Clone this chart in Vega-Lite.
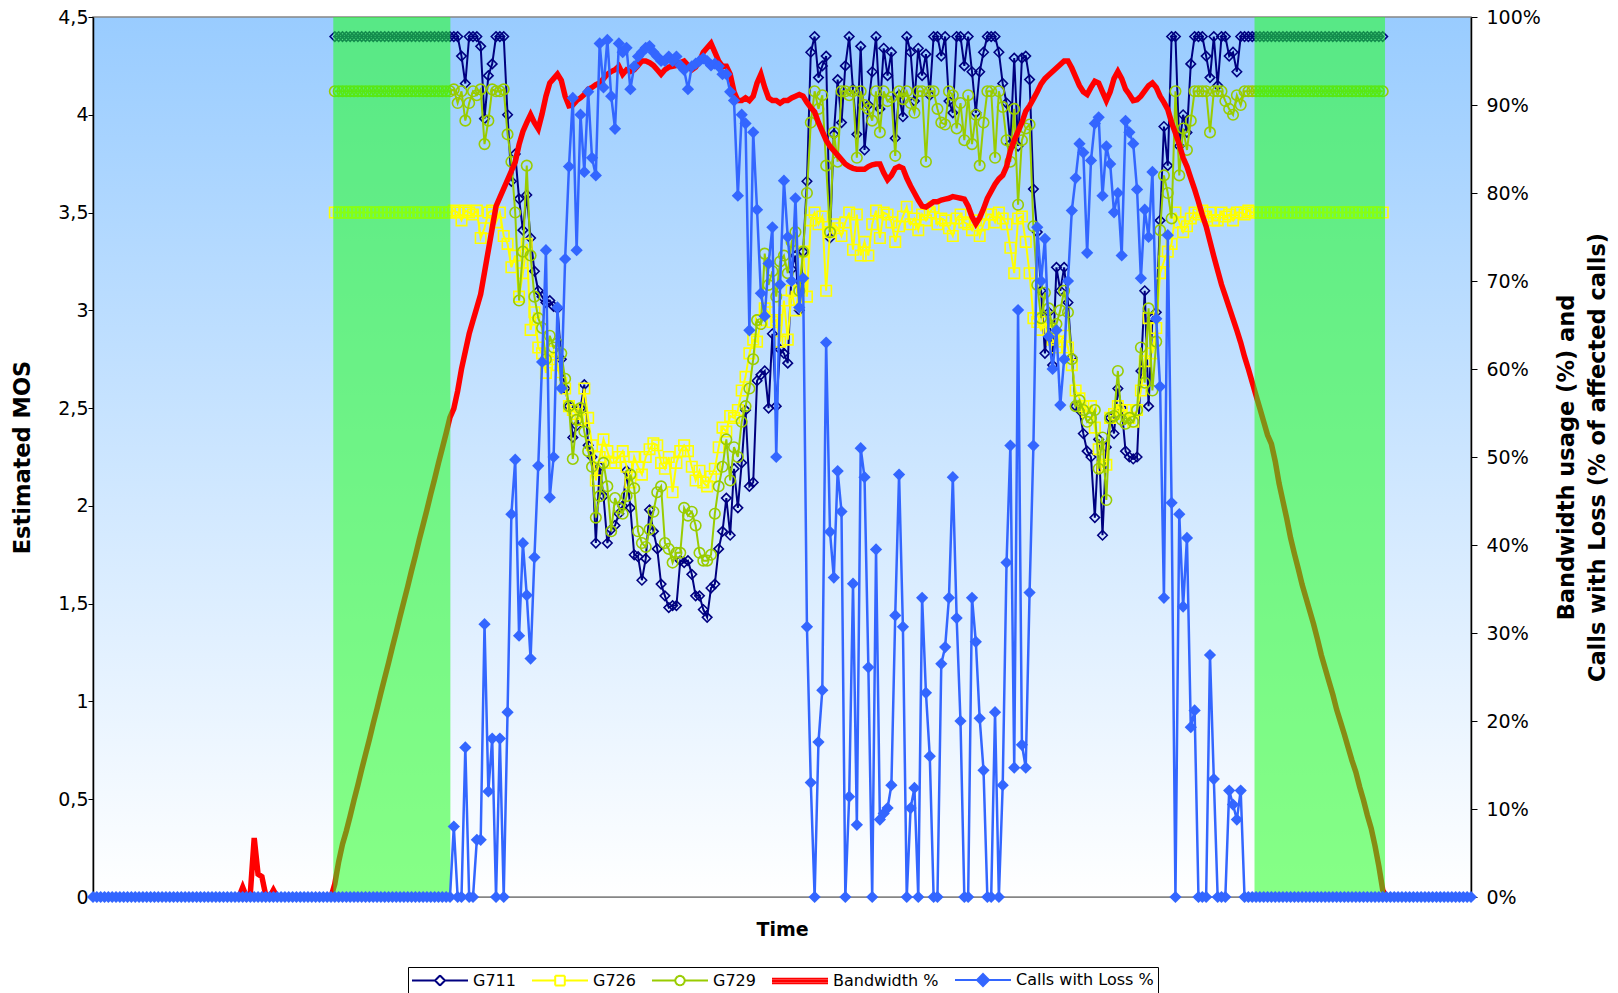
{
  "$schema": "https://vega.github.io/schema/vega-lite/v6.json",
  "width": 1378,
  "height": 880,
  "autosize": {"type": "none"},
  "padding": {"left": 93, "top": 17, "right": 147, "bottom": 96},
  "background": "white",
  "config": {
    "font": "DejaVu Sans",
    "view": {
      "stroke": "#868686",
      "strokeWidth": 1.5,
      "fill": {"gradient": "linear", "x1": 0, "y1": 0, "x2": 0, "y2": 1, "stops": [{"offset": 0, "color": "#99CCFF"}, {"offset": 1, "color": "#FFFFFF"}]}
    },
    "axis": {"labelFont": "DejaVu Sans", "titleFont": "DejaVu Sans", "labelColor": "black", "titleColor": "black", "domainColor": "black", "tickColor": "black", "grid": false, "labelFontSize": 19, "titleFontSize": 22.5, "titleFontWeight": "bold"}
  },
  "datasets": {
    "bands": [{"start": 62.6, "end": 93.1}, {"start": 302.6, "end": 336.6}],
    "mos": [
{"t":0,"BW":0,"Loss":0},{"t":1,"BW":0,"Loss":0},{"t":2,"BW":0,"Loss":0},{"t":3,"BW":0,"Loss":0},{"t":4,"BW":0,"Loss":0},{"t":5,"BW":0,"Loss":0},{"t":6,"BW":0,"Loss":0},{"t":7,"BW":0,"Loss":0},{"t":8,"BW":0,"Loss":0},{"t":9,"BW":0,"Loss":0},
{"t":10,"BW":0,"Loss":0},{"t":11,"BW":0,"Loss":0},{"t":12,"BW":0,"Loss":0},{"t":13,"BW":0,"Loss":0},{"t":14,"BW":0,"Loss":0},{"t":15,"BW":0,"Loss":0},{"t":16,"BW":0,"Loss":0},{"t":17,"BW":0,"Loss":0},{"t":18,"BW":0,"Loss":0},{"t":19,"BW":0,"Loss":0},
{"t":20,"BW":0,"Loss":0},{"t":21,"BW":0,"Loss":0},{"t":22,"BW":0,"Loss":0},{"t":23,"BW":0,"Loss":0},{"t":24,"BW":0,"Loss":0},{"t":25,"BW":0,"Loss":0},{"t":26,"BW":0,"Loss":0},{"t":27,"BW":0,"Loss":0},{"t":28,"BW":0,"Loss":0},{"t":29,"BW":0,"Loss":0},
{"t":30,"BW":0,"Loss":0},{"t":31,"BW":0,"Loss":0},{"t":32,"BW":0,"Loss":0},{"t":33,"BW":0,"Loss":0},{"t":34,"BW":0,"Loss":0},{"t":35,"BW":0,"Loss":0},{"t":36,"BW":0,"Loss":0},{"t":37,"BW":0,"Loss":0},{"t":38,"BW":0,"Loss":0},{"t":39,"BW":1.1,"Loss":0},
{"t":40,"BW":0,"Loss":0},{"t":41,"BW":0.5,"Loss":0},{"t":42,"BW":6.7,"Loss":0},{"t":43,"BW":2.6,"Loss":0},{"t":44,"BW":2.3,"Loss":0},{"t":45,"BW":0.2,"Loss":0},{"t":46,"BW":0,"Loss":0},{"t":47,"BW":0.8,"Loss":0},{"t":48,"BW":0,"Loss":0},{"t":49,"BW":0,"Loss":0},
{"t":50,"BW":0,"Loss":0},{"t":51,"BW":0,"Loss":0},{"t":52,"BW":0,"Loss":0},{"t":53,"BW":0,"Loss":0},{"t":54,"BW":0,"Loss":0},{"t":55,"BW":0,"Loss":0},{"t":56,"BW":0,"Loss":0},{"t":57,"BW":0,"Loss":0},{"t":58,"BW":0,"Loss":0},{"t":59,"BW":0,"Loss":0},
{"t":60,"BW":0,"Loss":0},{"t":61,"BW":0,"Loss":0},{"t":62,"BW":0,"Loss":0},
{"t":63,"G711":4.4,"G726":3.5,"G729":4.12,"BW":1.5,"Loss":0},
{"t":64,"G711":4.4,"G726":3.5,"G729":4.12,"BW":4,"Loss":0},
{"t":65,"G711":4.4,"G726":3.5,"G729":4.12,"BW":6,"Loss":0},
{"t":66,"G711":4.4,"G726":3.5,"G729":4.12,"BW":7.5,"Loss":0},
{"t":67,"G711":4.4,"G726":3.5,"G729":4.12,"BW":9.2,"Loss":0},
{"t":68,"G711":4.4,"G726":3.5,"G729":4.12,"BW":11,"Loss":0},
{"t":69,"G711":4.4,"G726":3.5,"G729":4.12,"BW":12.7,"Loss":0},
{"t":70,"G711":4.4,"G726":3.5,"G729":4.12,"BW":14.5,"Loss":0},
{"t":71,"G711":4.4,"G726":3.5,"G729":4.12,"BW":16.2,"Loss":0},
{"t":72,"G711":4.4,"G726":3.5,"G729":4.12,"BW":17.9,"Loss":0},
{"t":73,"G711":4.4,"G726":3.5,"G729":4.12,"BW":19.7,"Loss":0},
{"t":74,"G711":4.4,"G726":3.5,"G729":4.12,"BW":21.4,"Loss":0},
{"t":75,"G711":4.4,"G726":3.5,"G729":4.12,"BW":23.2,"Loss":0},
{"t":76,"G711":4.4,"G726":3.5,"G729":4.12,"BW":24.9,"Loss":0},
{"t":77,"G711":4.4,"G726":3.5,"G729":4.12,"BW":26.6,"Loss":0},
{"t":78,"G711":4.4,"G726":3.5,"G729":4.12,"BW":28.4,"Loss":0},
{"t":79,"G711":4.4,"G726":3.5,"G729":4.12,"BW":30.1,"Loss":0},
{"t":80,"G711":4.4,"G726":3.5,"G729":4.12,"BW":31.9,"Loss":0},
{"t":81,"G711":4.4,"G726":3.5,"G729":4.12,"BW":33.6,"Loss":0},
{"t":82,"G711":4.4,"G726":3.5,"G729":4.12,"BW":35.3,"Loss":0},
{"t":83,"G711":4.4,"G726":3.5,"G729":4.12,"BW":37.1,"Loss":0},
{"t":84,"G711":4.4,"G726":3.5,"G729":4.12,"BW":38.8,"Loss":0},
{"t":85,"G711":4.4,"G726":3.5,"G729":4.12,"BW":40.6,"Loss":0},
{"t":86,"G711":4.4,"G726":3.5,"G729":4.12,"BW":42.3,"Loss":0},
{"t":87,"G711":4.4,"G726":3.5,"G729":4.12,"BW":44,"Loss":0},
{"t":88,"G711":4.4,"G726":3.5,"G729":4.12,"BW":45.8,"Loss":0},
{"t":89,"G711":4.4,"G726":3.5,"G729":4.12,"BW":47.5,"Loss":0},
{"t":90,"G711":4.4,"G726":3.5,"G729":4.12,"BW":49.3,"Loss":0},
{"t":91,"G711":4.4,"G726":3.5,"G729":4.12,"BW":51,"Loss":0},
{"t":92,"G711":4.4,"G726":3.5,"G729":4.12,"BW":52.7,"Loss":0},
{"t":93,"G711":4.4,"G726":3.5,"G729":4.12,"BW":54.5,"Loss":0},
{"t":94,"G711":4.4,"G726":3.51,"G729":4.13,"BW":55.5,"Loss":8},
{"t":95,"G711":4.4,"G726":3.5,"G729":4.06,"BW":57.5,"Loss":0},
{"t":96,"G711":4.3,"G726":3.46,"G729":4.12,"BW":60,"Loss":0},
{"t":97,"G711":4.16,"G726":3.51,"G729":3.97,"BW":62,"Loss":17},
{"t":98,"G711":4.4,"G726":3.5,"G729":4.06,"BW":64,"Loss":0},
{"t":99,"G711":4.4,"G726":3.49,"G729":4.12,"BW":65.5,"Loss":0},
{"t":100,"G711":4.4,"G726":3.51,"G729":4.1,"BW":67,"Loss":6.5},
{"t":101,"G711":4.35,"G726":3.37,"G729":4.13,"BW":68.5,"Loss":6.5},
{"t":102,"G711":3.98,"G726":3.42,"G729":3.85,"BW":71,"Loss":31},
{"t":103,"G711":4.2,"G726":3.5,"G729":3.97,"BW":73.5,"Loss":12},
{"t":104,"G711":4.26,"G726":3.51,"G729":4.13,"BW":76,"Loss":18},
{"t":105,"G711":4.4,"G726":3.45,"G729":4.12,"BW":78.5,"Loss":0},
{"t":106,"G711":4.4,"G726":3.5,"G729":4.12,"BW":79.5,"Loss":18},
{"t":107,"G711":4.4,"G726":3.38,"G729":4.13,"BW":80.5,"Loss":0},
{"t":108,"G711":4.0,"G726":3.34,"G729":3.9,"BW":81.5,"Loss":21},
{"t":109,"G711":3.66,"G726":3.22,"G729":3.76,"BW":82.5,"Loss":43.5},
{"t":110,"G711":3.8,"G726":3.28,"G729":3.5,"BW":83.5,"Loss":49.7},
{"t":111,"G711":3.57,"G726":3.07,"G729":3.05,"BW":85.5,"Loss":29.7},
{"t":112,"G711":3.41,"G726":3.19,"G729":3.3,"BW":87,"Loss":40.2},
{"t":113,"G711":3.59,"G726":3.34,"G729":3.74,"BW":88,"Loss":34.3},
{"t":114,"G711":3.37,"G726":2.9,"G729":3.28,"BW":88.9,"Loss":27.1},
{"t":115,"G711":3.2,"G726":2.99,"G729":3.07,"BW":88,"Loss":38.6},
{"t":116,"G711":3.1,"G726":2.81,"G729":2.96,"BW":87.3,"Loss":49},
{"t":117,"G711":3.07,"G726":2.78,"G729":2.91,"BW":89,"Loss":60.8},
{"t":118,"G711":3.04,"G726":2.68,"G729":2.75,"BW":91,"Loss":73.5},
{"t":119,"G711":3.05,"G726":2.75,"G729":2.87,"BW":92.5,"Loss":45.4},
{"t":120,"G711":3.02,"G726":2.79,"G729":2.81,"BW":93,"Loss":50},
{"t":121,"G711":3.01,"G726":2.72,"G729":2.83,"BW":93.5,"Loss":67},
{"t":122,"G711":2.75,"G726":2.63,"G729":2.78,"BW":92.8,"Loss":57.8},
{"t":123,"G711":2.6,"G726":2.6,"G729":2.65,"BW":91,"Loss":72.5},
{"t":124,"G711":2.51,"G726":2.51,"G729":2.51,"BW":89.9,"Loss":83},
{"t":125,"G711":2.35,"G726":2.49,"G729":2.24,"BW":90,"Loss":90.8},
{"t":126,"G711":2.41,"G726":2.47,"G729":2.44,"BW":90.5,"Loss":73.5},
{"t":127,"G711":2.5,"G726":2.44,"G729":2.5,"BW":90.8,"Loss":88.9},
{"t":128,"G711":2.62,"G726":2.6,"G729":2.38,"BW":91.2,"Loss":82.4},
{"t":129,"G711":2.31,"G726":2.45,"G729":2.28,"BW":91.8,"Loss":91.5},
{"t":130,"G711":2.25,"G726":2.31,"G729":2.2,"BW":92,"Loss":84},
{"t":131,"G711":1.81,"G726":2.13,"G729":1.94,"BW":92.3,"Loss":82},
{"t":132,"G711":2.2,"G726":2.25,"G729":2.05,"BW":92.5,"Loss":97},
{"t":133,"G711":2.05,"G726":2.34,"G729":2.22,"BW":93,"Loss":92},
{"t":134,"G711":1.81,"G726":2.28,"G729":2.1,"BW":93.5,"Loss":97.4},
{"t":135,"G711":1.88,"G726":2.22,"G729":1.87,"BW":93.8,"Loss":91},
{"t":136,"G711":1.9,"G726":2.22,"G729":2.04,"BW":94,"Loss":87.3},
{"t":137,"G711":1.96,"G726":2.25,"G729":1.99,"BW":94.4,"Loss":97},
{"t":138,"G711":2.0,"G726":2.28,"G729":1.96,"BW":93.5,"Loss":96},
{"t":139,"G711":2.18,"G726":2.2,"G729":2.05,"BW":94,"Loss":96.5},
{"t":140,"G711":1.99,"G726":2.12,"G729":2.16,"BW":93.8,"Loss":91.8},
{"t":141,"G711":1.75,"G726":2.25,"G729":2.09,"BW":94,"Loss":94.4},
{"t":142,"G711":1.74,"G726":2.2,"G729":1.87,"BW":94.5,"Loss":95.5},
{"t":143,"G711":1.62,"G726":2.16,"G729":1.81,"BW":95,"Loss":96},
{"t":144,"G711":1.73,"G726":2.25,"G729":1.79,"BW":95,"Loss":96.5},
{"t":145,"G711":1.98,"G726":2.29,"G729":1.88,"BW":94.8,"Loss":96.7},
{"t":146,"G711":1.87,"G726":2.32,"G729":1.97,"BW":94.5,"Loss":96},
{"t":147,"G711":1.78,"G726":2.31,"G729":2.07,"BW":94,"Loss":95.5},
{"t":148,"G711":1.6,"G726":2.22,"G729":2.1,"BW":93.5,"Loss":95},
{"t":149,"G711":1.54,"G726":2.19,"G729":1.81,"BW":94,"Loss":95},
{"t":150,"G711":1.48,"G726":2.25,"G729":1.78,"BW":94.3,"Loss":95.5},
{"t":151,"G711":1.49,"G726":2.07,"G729":1.71,"BW":94.4,"Loss":95},
{"t":152,"G711":1.49,"G726":2.22,"G729":1.76,"BW":94.5,"Loss":95.5},
{"t":153,"G711":1.72,"G726":2.28,"G729":1.76,"BW":94.8,"Loss":94.5},
{"t":154,"G711":1.71,"G726":2.31,"G729":1.99,"BW":95,"Loss":94},
{"t":155,"G711":1.72,"G726":2.28,"G729":1.95,"BW":94.5,"Loss":91.8},
{"t":156,"G711":1.65,"G726":2.2,"G729":1.97,"BW":94,"Loss":94.4},
{"t":157,"G711":1.54,"G726":2.13,"G729":1.9,"BW":94.3,"Loss":94.7},
{"t":158,"G711":1.54,"G726":2.18,"G729":1.76,"BW":95,"Loss":95},
{"t":159,"G711":1.47,"G726":2.12,"G729":1.72,"BW":96,"Loss":95.3},
{"t":160,"G711":1.43,"G726":2.1,"G729":1.72,"BW":96.5,"Loss":95},
{"t":161,"G711":1.58,"G726":2.15,"G729":1.75,"BW":97,"Loss":94.5},
{"t":162,"G711":1.6,"G726":2.19,"G729":1.96,"BW":96,"Loss":94.7},
{"t":163,"G711":1.78,"G726":2.3,"G729":2.1,"BW":95,"Loss":94.4},
{"t":164,"G711":1.87,"G726":2.4,"G729":2.2,"BW":94.4,"Loss":93.5},
{"t":165,"G711":2.04,"G726":2.38,"G729":2.34,"BW":94.4,"Loss":93.5},
{"t":166,"G711":1.85,"G726":2.46,"G729":2.13,"BW":93.5,"Loss":91.5},
{"t":167,"G711":2.19,"G726":2.45,"G729":2.3,"BW":91.5,"Loss":90.5},
{"t":168,"G711":1.99,"G726":2.49,"G729":2.25,"BW":90.5,"Loss":79.7},
{"t":169,"G711":2.22,"G726":2.59,"G729":2.43,"BW":90.5,"Loss":88.9},
{"t":170,"G711":2.49,"G726":2.66,"G729":2.51,"BW":90.8,"Loss":87.9},
{"t":171,"G711":2.1,"G726":2.78,"G729":2.6,"BW":90.5,"Loss":64.4},
{"t":172,"G711":2.12,"G726":2.85,"G729":2.75,"BW":91,"Loss":86.9},
{"t":173,"G711":2.64,"G726":2.84,"G729":2.95,"BW":92.5,"Loss":78.1},
{"t":174,"G711":2.67,"G726":2.95,"G729":2.93,"BW":93.5,"Loss":68.6},
{"t":175,"G711":2.69,"G726":3.01,"G729":3.29,"BW":92,"Loss":66},
{"t":176,"G711":2.5,"G726":2.99,"G729":3.13,"BW":90.8,"Loss":72},
{"t":177,"G711":2.88,"G726":2.94,"G729":3.2,"BW":90.5,"Loss":76.1},
{"t":178,"G711":2.51,"G726":2.95,"G729":3.07,"BW":90.5,"Loss":50},
{"t":179,"G711":2.8,"G726":2.84,"G729":3.25,"BW":90.2,"Loss":69.6},
{"t":180,"G711":2.78,"G726":3.05,"G729":3.28,"BW":90.5,"Loss":81.4},
{"t":181,"G711":2.73,"G726":2.85,"G729":3.19,"BW":90.5,"Loss":75},
{"t":182,"G711":3.21,"G726":3.1,"G729":3.35,"BW":90.8,"Loss":70},
{"t":183,"G711":3.28,"G726":3.0,"G729":3.4,"BW":91,"Loss":79.4},
{"t":184,"G711":3.0,"G726":3.1,"G729":3.1,"BW":91.2,"Loss":67},
{"t":185,"G711":3.3,"G726":3.3,"G729":3.3,"BW":91,"Loss":70.3},
{"t":186,"G711":3.66,"G726":3.07,"G729":3.6,"BW":90.3,"Loss":30.7},
{"t":187,"G711":4.32,"G726":3.46,"G729":3.96,"BW":89.7,"Loss":13},
{"t":188,"G711":4.4,"G726":3.5,"G729":4.12,"BW":89.2,"Loss":0},
{"t":189,"G711":4.19,"G726":3.44,"G729":4.03,"BW":88,"Loss":17.6},
{"t":190,"G711":4.25,"G726":3.48,"G729":4.1,"BW":87,"Loss":23.5},
{"t":191,"G711":4.3,"G726":3.1,"G729":3.74,"BW":86,"Loss":63},
{"t":192,"G711":3.37,"G726":3.4,"G729":3.4,"BW":85.3,"Loss":41.5},
{"t":193,"G711":3.9,"G726":3.44,"G729":3.91,"BW":84.8,"Loss":36.3},
{"t":194,"G711":4.18,"G726":3.42,"G729":3.76,"BW":84.3,"Loss":48.4},
{"t":195,"G711":3.96,"G726":3.38,"G729":4.12,"BW":83.8,"Loss":43.8},
{"t":196,"G711":4.25,"G726":3.45,"G729":4.12,"BW":83.3,"Loss":0},
{"t":197,"G711":4.4,"G726":3.5,"G729":4.1,"BW":83,"Loss":11.4},
{"t":198,"G711":4.13,"G726":3.31,"G729":4.12,"BW":82.8,"Loss":35.6},
{"t":199,"G711":3.9,"G726":3.49,"G729":3.78,"BW":82.7,"Loss":8.2},
{"t":200,"G711":4.35,"G726":3.28,"G729":4.12,"BW":82.7,"Loss":51},
{"t":201,"G711":3.82,"G726":3.35,"G729":4.05,"BW":82.7,"Loss":47.7},
{"t":202,"G711":4.05,"G726":3.28,"G729":4.03,"BW":83,"Loss":26.1},
{"t":203,"G711":4.22,"G726":3.44,"G729":3.97,"BW":83.2,"Loss":0},
{"t":204,"G711":4.4,"G726":3.51,"G729":4.12,"BW":83.3,"Loss":39.5},
{"t":205,"G711":4.03,"G726":3.37,"G729":3.91,"BW":83.3,"Loss":8.8},
{"t":206,"G711":4.34,"G726":3.5,"G729":4.12,"BW":82.3,"Loss":9.5},
{"t":207,"G711":4.2,"G726":3.49,"G729":4.07,"BW":81.5,"Loss":10.1},
{"t":208,"G711":4.32,"G726":3.45,"G729":4.09,"BW":82,"Loss":12.7},
{"t":209,"G711":3.88,"G726":3.35,"G729":3.79,"BW":82.8,"Loss":32},
{"t":210,"G711":4.1,"G726":3.43,"G729":4.12,"BW":83,"Loss":48},
{"t":211,"G711":3.99,"G726":3.48,"G729":4.08,"BW":82.8,"Loss":30.7},
{"t":212,"G711":4.4,"G726":3.53,"G729":4.12,"BW":81.7,"Loss":0},
{"t":213,"G711":4.32,"G726":3.44,"G729":4.06,"BW":80.8,"Loss":10.1},
{"t":214,"G711":4.07,"G726":3.47,"G729":4.01,"BW":80,"Loss":12.4},
{"t":215,"G711":4.34,"G726":3.41,"G729":4.12,"BW":79.2,"Loss":0},
{"t":216,"G711":4.2,"G726":3.49,"G729":4.12,"BW":78.5,"Loss":34},
{"t":217,"G711":4.31,"G726":3.46,"G729":3.76,"BW":78.4,"Loss":23.2},
{"t":218,"G711":4.1,"G726":3.5,"G729":4.12,"BW":78.7,"Loss":16},
{"t":219,"G711":4.4,"G726":3.53,"G729":4.12,"BW":79,"Loss":0},
{"t":220,"G711":4.4,"G726":3.44,"G729":4.03,"BW":79,"Loss":0},
{"t":221,"G711":4.3,"G726":3.47,"G729":3.96,"BW":79.2,"Loss":26.5},
{"t":222,"G711":4.4,"G726":3.46,"G729":3.95,"BW":79.3,"Loss":28.4},
{"t":223,"G711":4.07,"G726":3.42,"G729":4.12,"BW":79.4,"Loss":34},
{"t":224,"G711":4.01,"G726":3.38,"G729":4.1,"BW":79.6,"Loss":47.7},
{"t":225,"G711":4.4,"G726":3.47,"G729":3.93,"BW":79.5,"Loss":31.7},
{"t":226,"G711":4.4,"G726":3.49,"G729":4.06,"BW":79.4,"Loss":20},
{"t":227,"G711":4.25,"G726":3.45,"G729":3.87,"BW":79.3,"Loss":0},
{"t":228,"G711":4.4,"G726":3.44,"G729":4.1,"BW":78.5,"Loss":0},
{"t":229,"G711":4.22,"G726":3.41,"G729":3.85,"BW":77.3,"Loss":34},
{"t":230,"G711":4.01,"G726":3.46,"G729":4.0,"BW":76.5,"Loss":29},
{"t":231,"G711":4.22,"G726":3.38,"G729":3.74,"BW":77.2,"Loss":20.3},
{"t":232,"G711":4.32,"G726":3.44,"G729":3.96,"BW":78.2,"Loss":14.4},
{"t":233,"G711":4.4,"G726":3.49,"G729":4.12,"BW":79.4,"Loss":0},
{"t":234,"G711":4.4,"G726":3.49,"G729":4.12,"BW":80.2,"Loss":0},
{"t":235,"G711":4.4,"G726":3.45,"G729":3.78,"BW":81,"Loss":21},
{"t":236,"G711":4.32,"G726":3.5,"G729":4.12,"BW":81.6,"Loss":0},
{"t":237,"G711":4.16,"G726":3.47,"G729":4.04,"BW":82,"Loss":12.7},
{"t":238,"G711":4.06,"G726":3.44,"G729":3.87,"BW":83,"Loss":38},
{"t":239,"G711":3.85,"G726":3.32,"G729":3.76,"BW":84.8,"Loss":51.3},
{"t":240,"G711":4.29,"G726":3.19,"G729":4.03,"BW":86,"Loss":14.7},
{"t":241,"G711":3.84,"G726":3.47,"G729":3.54,"BW":87,"Loss":66.7},
{"t":242,"G711":4.29,"G726":3.48,"G729":3.87,"BW":88,"Loss":17.3},
{"t":243,"G711":4.3,"G726":3.35,"G729":3.93,"BW":89.3,"Loss":14.7},
{"t":244,"G711":4.18,"G726":3.19,"G729":3.95,"BW":89.9,"Loss":34.6},
{"t":245,"G711":3.62,"G726":2.96,"G729":3.43,"BW":90.7,"Loss":51.3},
{"t":246,"G711":3.4,"G726":2.94,"G729":3.13,"BW":91.5,"Loss":76.1},
{"t":247,"G711":3.1,"G726":2.9,"G729":2.96,"BW":92.4,"Loss":70},
{"t":248,"G711":2.78,"G726":2.94,"G729":3.09,"BW":93,"Loss":74.8},
{"t":249,"G711":2.99,"G726":2.9,"G729":3.01,"BW":93.4,"Loss":63.7},
{"t":250,"G711":2.72,"G726":2.85,"G729":2.91,"BW":93.8,"Loss":60},
{"t":251,"G711":3.22,"G726":2.81,"G729":2.93,"BW":94.2,"Loss":64.4},
{"t":252,"G711":3.1,"G726":2.84,"G729":3.0,"BW":94.6,"Loss":55.9},
{"t":253,"G711":3.22,"G726":2.87,"G729":3.1,"BW":95,"Loss":61.1},
{"t":254,"G711":3.04,"G726":2.81,"G729":2.99,"BW":95,"Loss":70},
{"t":255,"G711":2.76,"G726":2.72,"G729":2.75,"BW":94.2,"Loss":78},
{"t":256,"G711":2.51,"G726":2.59,"G729":2.51,"BW":93.2,"Loss":81.7},
{"t":257,"G711":2.49,"G726":2.55,"G729":2.54,"BW":92.2,"Loss":85.6},
{"t":258,"G711":2.37,"G726":2.51,"G729":2.49,"BW":91.5,"Loss":84.6},
{"t":259,"G711":2.28,"G726":2.48,"G729":2.43,"BW":91.2,"Loss":73.2},
{"t":260,"G711":2.25,"G726":2.51,"G729":2.45,"BW":92,"Loss":83.7},
{"t":261,"G711":1.94,"G726":2.4,"G729":2.49,"BW":92.7,"Loss":87.9},
{"t":262,"G711":2.34,"G726":2.29,"G729":2.19,"BW":92.5,"Loss":88.6},
{"t":263,"G711":1.85,"G726":2.2,"G729":2.35,"BW":91.5,"Loss":79.7},
{"t":264,"G711":2.3,"G726":2.21,"G729":2.03,"BW":90.5,"Loss":85.3},
{"t":265,"G711":2.45,"G726":2.45,"G729":2.45,"BW":91.5,"Loss":83.3},
{"t":266,"G711":2.37,"G726":2.47,"G729":2.46,"BW":93,"Loss":77.8},
{"t":267,"G711":2.6,"G726":2.51,"G729":2.69,"BW":93.8,"Loss":80},
{"t":268,"G711":2.5,"G726":2.49,"G729":2.44,"BW":93,"Loss":72.9},
{"t":269,"G711":2.28,"G726":2.49,"G729":2.42,"BW":91.8,"Loss":88.2},
{"t":270,"G711":2.25,"G726":2.45,"G729":2.45,"BW":91.2,"Loss":86.9},
{"t":271,"G711":2.24,"G726":2.43,"G729":2.43,"BW":90.5,"Loss":85.6},
{"t":272,"G711":2.25,"G726":2.49,"G729":2.49,"BW":90.6,"Loss":80.4},
{"t":273,"G711":2.69,"G726":2.59,"G729":2.81,"BW":91,"Loss":70.3},
{"t":274,"G711":3.1,"G726":2.74,"G729":2.63,"BW":91.6,"Loss":78.1},
{"t":275,"G711":2.51,"G726":2.96,"G729":3.01,"BW":92.2,"Loss":75},
{"t":276,"G711":2.96,"G726":2.78,"G729":2.59,"BW":92.5,"Loss":82.4},
{"t":277,"G711":2.99,"G726":2.91,"G729":2.84,"BW":92,"Loss":65.7},
{"t":278,"G711":3.46,"G726":3.19,"G729":3.41,"BW":91,"Loss":58},
{"t":279,"G711":3.94,"G726":3.25,"G729":3.69,"BW":90.3,"Loss":34},
{"t":280,"G711":3.74,"G726":3.3,"G729":3.6,"BW":89.5,"Loss":75.2},
{"t":281,"G711":4.4,"G726":3.34,"G729":3.47,"BW":88,"Loss":44.8},
{"t":282,"G711":4.4,"G726":3.5,"G729":4.12,"BW":86.8,"Loss":0},
{"t":283,"G711":3.84,"G726":3.45,"G729":3.69,"BW":85.5,"Loss":43.5},
{"t":284,"G711":4.0,"G726":3.4,"G729":3.93,"BW":84,"Loss":33},
{"t":285,"G711":3.91,"G726":3.43,"G729":3.82,"BW":83,"Loss":40.8},
{"t":286,"G711":4.26,"G726":3.47,"G729":3.97,"BW":81.7,"Loss":19.3},
{"t":287,"G711":4.4,"G726":3.5,"G729":4.12,"BW":80.4,"Loss":21.2},
{"t":288,"G711":4.4,"G726":3.49,"G729":4.12,"BW":79,"Loss":0},
{"t":289,"G711":4.4,"G726":3.51,"G729":4.12,"BW":77.5,"Loss":0},
{"t":290,"G711":4.3,"G726":3.48,"G729":4.12,"BW":76.2,"Loss":0},
{"t":291,"G711":4.19,"G726":3.5,"G729":3.91,"BW":74.5,"Loss":27.5},
{"t":292,"G711":4.4,"G726":3.46,"G729":4.12,"BW":72.8,"Loss":13.4},
{"t":293,"G711":4.15,"G726":3.46,"G729":4.12,"BW":71.2,"Loss":0},
{"t":294,"G711":4.4,"G726":3.5,"G729":4.12,"BW":69.6,"Loss":0},
{"t":295,"G711":4.4,"G726":3.48,"G729":4.07,"BW":68.3,"Loss":0},
{"t":296,"G711":4.3,"G726":3.49,"G729":4.03,"BW":67,"Loss":12.1},
{"t":297,"G711":4.32,"G726":3.46,"G729":4.0,"BW":65.7,"Loss":10.5},
{"t":298,"G711":4.22,"G726":3.5,"G729":4.1,"BW":64.4,"Loss":8.8},
{"t":299,"G711":4.4,"G726":3.5,"G729":4.05,"BW":63,"Loss":12.1},
{"t":300,"G711":4.4,"G726":3.49,"G729":4.12,"BW":61.4,"Loss":0},
{"t":301,"G711":4.4,"G726":3.51,"G729":4.12,"BW":60,"Loss":0},
{"t":302,"G711":4.4,"G726":3.5,"G729":4.12,"BW":58.5,"Loss":0},
{"t":303,"G711":4.4,"G726":3.5,"G729":4.12,"BW":57,"Loss":0},
{"t":304,"G711":4.4,"G726":3.5,"G729":4.12,"BW":55.5,"Loss":0},
{"t":305,"G711":4.4,"G726":3.5,"G729":4.12,"BW":54,"Loss":0},
{"t":306,"G711":4.4,"G726":3.5,"G729":4.12,"BW":52.5,"Loss":0},
{"t":307,"G711":4.4,"G726":3.5,"G729":4.12,"BW":51.5,"Loss":0},
{"t":308,"G711":4.4,"G726":3.5,"G729":4.12,"BW":49.5,"Loss":0},
{"t":309,"G711":4.4,"G726":3.5,"G729":4.12,"BW":47,"Loss":0},
{"t":310,"G711":4.4,"G726":3.5,"G729":4.12,"BW":45,"Loss":0},
{"t":311,"G711":4.4,"G726":3.5,"G729":4.12,"BW":43,"Loss":0},
{"t":312,"G711":4.4,"G726":3.5,"G729":4.12,"BW":40.8,"Loss":0},
{"t":313,"G711":4.4,"G726":3.5,"G729":4.12,"BW":39,"Loss":0},
{"t":314,"G711":4.4,"G726":3.5,"G729":4.12,"BW":37.3,"Loss":0},
{"t":315,"G711":4.4,"G726":3.5,"G729":4.12,"BW":35.5,"Loss":0},
{"t":316,"G711":4.4,"G726":3.5,"G729":4.12,"BW":34,"Loss":0},
{"t":317,"G711":4.4,"G726":3.5,"G729":4.12,"BW":32.5,"Loss":0},
{"t":318,"G711":4.4,"G726":3.5,"G729":4.12,"BW":31,"Loss":0},
{"t":319,"G711":4.4,"G726":3.5,"G729":4.12,"BW":29.3,"Loss":0},
{"t":320,"G711":4.4,"G726":3.5,"G729":4.12,"BW":27.5,"Loss":0},
{"t":321,"G711":4.4,"G726":3.5,"G729":4.12,"BW":26,"Loss":0},
{"t":322,"G711":4.4,"G726":3.5,"G729":4.12,"BW":24.5,"Loss":0},
{"t":323,"G711":4.4,"G726":3.5,"G729":4.12,"BW":23,"Loss":0},
{"t":324,"G711":4.4,"G726":3.5,"G729":4.12,"BW":21.3,"Loss":0},
{"t":325,"G711":4.4,"G726":3.5,"G729":4.12,"BW":19.9,"Loss":0},
{"t":326,"G711":4.4,"G726":3.5,"G729":4.12,"BW":18.5,"Loss":0},
{"t":327,"G711":4.4,"G726":3.5,"G729":4.12,"BW":17,"Loss":0},
{"t":328,"G711":4.4,"G726":3.5,"G729":4.12,"BW":15.5,"Loss":0},
{"t":329,"G711":4.4,"G726":3.5,"G729":4.12,"BW":14.2,"Loss":0},
{"t":330,"G711":4.4,"G726":3.5,"G729":4.12,"BW":12.5,"Loss":0},
{"t":331,"G711":4.4,"G726":3.5,"G729":4.12,"BW":11,"Loss":0},
{"t":332,"G711":4.4,"G726":3.5,"G729":4.12,"BW":9.3,"Loss":0},
{"t":333,"G711":4.4,"G726":3.5,"G729":4.12,"BW":7.8,"Loss":0},
{"t":334,"G711":4.4,"G726":3.5,"G729":4.12,"BW":5.8,"Loss":0},
{"t":335,"G711":4.4,"G726":3.5,"G729":4.12,"BW":3.5,"Loss":0},
{"t":336,"G711":4.4,"G726":3.5,"G729":4.12,"BW":0.8,"Loss":0},
{"t":337,"BW":0,"Loss":0},{"t":338,"BW":0,"Loss":0},{"t":339,"BW":0,"Loss":0},{"t":340,"BW":0,"Loss":0},{"t":341,"BW":0,"Loss":0},{"t":342,"BW":0,"Loss":0},{"t":343,"BW":0,"Loss":0},{"t":344,"BW":0,"Loss":0},{"t":345,"BW":0,"Loss":0},{"t":346,"BW":0,"Loss":0},
{"t":347,"BW":0,"Loss":0},{"t":348,"BW":0,"Loss":0},{"t":349,"BW":0,"Loss":0},{"t":350,"BW":0,"Loss":0},{"t":351,"BW":0,"Loss":0},{"t":352,"BW":0,"Loss":0},{"t":353,"BW":0,"Loss":0},{"t":354,"BW":0,"Loss":0},{"t":355,"BW":0,"Loss":0},{"t":356,"BW":0,"Loss":0},
{"t":357,"BW":0,"Loss":0},{"t":358,"BW":0,"Loss":0},{"t":359,"BW":0,"Loss":0}
    ]
  },
  "data": {"name": "mos"},
  "encoding": {
    "x": {"field": "t", "type": "quantitative", "scale": {"domain": [0, 359], "nice": false, "zero": false}, "axis": {"title": "Time", "labels": false, "ticks": false, "domainColor": "#868686", "titleFontSize": 19, "titlePadding": 23}}
  },
  "layer": [
    {
      "transform": [{"filter": {"field": "t", "range": [63, 336]}}],
      "encoding": {
        "y": {"type": "quantitative", "scale": {"domain": [0, 4.5], "nice": false}, "axis": {"title": "Estimated MOS", "values": [0, 0.5, 1, 1.5, 2, 2.5, 3, 3.5, 4, 4.5], "labelExpr": "replace(format(datum.value, '.1~f'), '.', ',')", "tickSize": 5, "labelPadding": 0, "titlePadding": 23, "domainWidth": 1.5}}
      },
      "layer": [
        {
          "mark": {"type": "line", "strokeWidth": 2, "point": {"shape": "diamond", "filled": false, "size": 90, "strokeWidth": 1.6}},
          "encoding": {
            "y": {"field": "G711"},
            "color": {"datum": "G711", "type": "nominal", "scale": {"domain": ["G711", "G726", "G729", "Bandwidth %", "Calls with Loss %"], "range": ["#000080", "#FFFF00", "#99CC00", "#FF0000", "#3366FF"]},
              "legend": {
                "orient": "none", "legendX": 315, "legendY": 950, "direction": "horizontal", "columns": 5, "title": null,
                "symbolSize": 256, "symbolStrokeWidth": 2, "symbolOffset": 19, "labelFontSize": 16, "labelFont": "DejaVu Sans", "labelColor": "black",
                "columnPadding": 12, "labelOffset": 24, "padding": 4, "strokeColor": "black", "fillColor": "white",
                "encode": {"symbols": {"update": {
                  "shape": {"signal": "(datum.value === 'G711' ? 'M-3.5,0L-0.62,0M0.62,0L3.5,0M0,-0.62L0.62,0M0.62,0L0,0.62M0,0.62L-0.62,0M-0.62,0L0,-0.62' : datum.value === 'G726' ? 'M-3.5,0L-0.6,0M0.6,0L3.5,0M-0.6,-0.6L0.6,-0.6M0.6,-0.6L0.6,0.6M0.6,0.6L-0.6,0.6M-0.6,0.6L-0.6,-0.6' : datum.value === 'G729' ? 'M-3.5,0L-0.6,0M0.6,0L3.5,0M0.6,0L0.52,0.3M0.52,0.3L0.3,0.52M0.3,0.52L0,0.6M0,0.6L-0.3,0.52M-0.3,0.52L-0.52,0.3M-0.52,0.3L-0.6,0M-0.6,0L-0.52,-0.3M-0.52,-0.3L-0.3,-0.52M-0.3,-0.52L0,-0.6M0,-0.6L0.3,-0.52M0.3,-0.52L0.52,-0.3M0.52,-0.3L0.6,0' : datum.value === 'Bandwidth %' ? 'M-3.5,-0.28L3.5,-0.28M-3.5,0L3.5,0M-3.5,0.28L3.5,0.28' : 'M-3.5,0L3.5,0M0,-0.75L0.75,0L0,0.75L-0.75,0ZM0,-0.5L0.5,0L0,0.5L-0.5,0ZM0,-0.25L0.25,0L0,0.25L-0.25,0Z')"},
                  "fill": {"signal": "(datum.value === 'Calls with Loss %' ? '#3366FF' : 'transparent')"},
                  "fillOpacity": {"signal": "(datum.value === 'Calls with Loss %' ? 1 : 0)"}
                }}}
              }}
          }
        },
        {
          "mark": {"type": "line", "strokeWidth": 2, "point": {"shape": "square", "filled": false, "size": 110, "strokeWidth": 1.6}},
          "encoding": {
            "y": {"field": "G726"},
            "color": {"datum": "G726", "type": "nominal"}
          }
        },
        {
          "mark": {"type": "line", "strokeWidth": 2, "point": {"shape": "circle", "filled": false, "size": 110, "strokeWidth": 1.6}},
          "encoding": {
            "y": {"field": "G729"},
            "color": {"datum": "G729", "type": "nominal"}
          }
        }
      ]
    },
    {
      "encoding": {
        "y": {"type": "quantitative", "scale": {"domain": [0, 100], "nice": false}, "axis": {"orient": "right", "title": ["Bandwidth usage (%) and", "Calls with Loss (% of affected calls)"], "titleAngle": 270, "titleLineHeight": 31, "values": [0, 10, 20, 30, 40, 50, 60, 70, 80, 90, 100], "labelExpr": "datum.value + '%'", "tickSize": 6, "labelPadding": 9, "titlePadding": 7, "domainWidth": 1.5}}
      },
      "layer": [
        {
          "mark": {"type": "line", "strokeWidth": 5.5},
          "encoding": {
            "y": {"field": "BW"},
            "color": {"datum": "Bandwidth %", "type": "nominal"}
          }
        },
        {
          "data": {"name": "bands"},
          "mark": {"type": "rect", "color": "#22FF22", "opacity": 0.55},
          "encoding": {
            "x": {"field": "start"},
            "x2": {"field": "end"},
            "y": {"datum": 0},
            "y2": {"datum": 100}
          }
        },
        {
          "mark": {"type": "line", "strokeWidth": 2.5, "point": {"shape": "diamond", "filled": true, "size": 150}},
          "encoding": {
            "y": {"field": "Loss"},
            "color": {"datum": "Calls with Loss %", "type": "nominal"}
          }
        }
      ]
    }
  ],
  "resolve": {"scale": {"y": "independent"}}
}
